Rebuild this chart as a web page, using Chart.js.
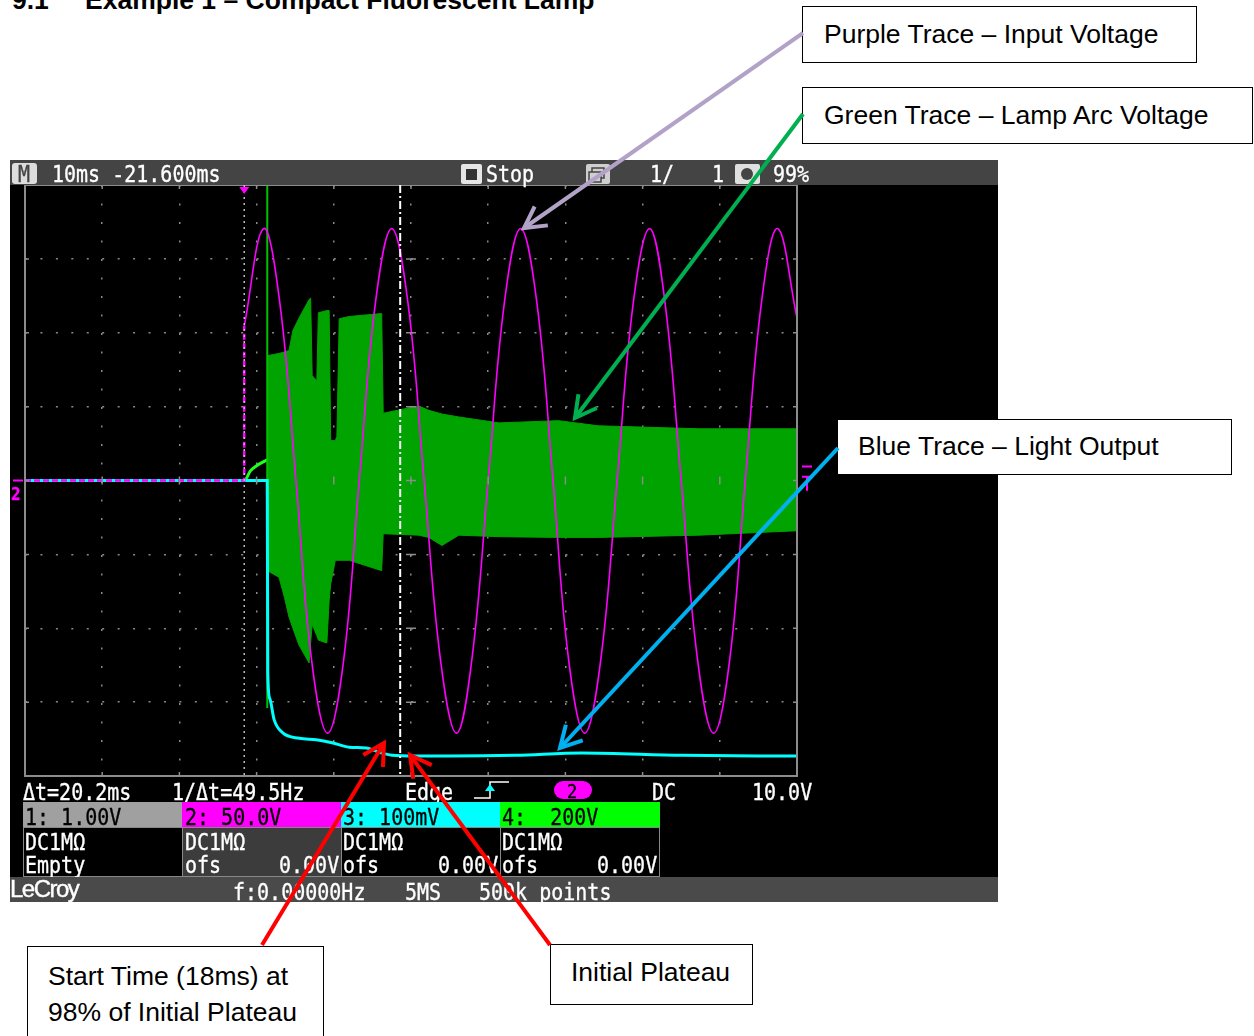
<!DOCTYPE html>
<html>
<head>
<meta charset="utf-8">
<script src="https://cdn.jsdelivr.net/npm/chart.js@4.4.1/dist/chart.umd.min.js"></script>
<style>
  body { margin: 0; background: #fff; }
  #page { position: relative; width: 1254px; height: 1036px; overflow: hidden; background: #fff; }
  #c { position: absolute; left: 10px; top: 160px; }
  .m { position: absolute; font-family: 'DejaVu Sans Mono', monospace; font-size: 20px; line-height: 20px;
       color: #fff; white-space: pre; transform: scaleY(1.15); transform-origin: top left; -webkit-text-stroke: 0.3px; }
  .bar { position: absolute; background: #444; }
  .cell { position: absolute; box-sizing: border-box; }
  .note { position: absolute; box-sizing: border-box; background: #fff; border: 1.5px solid #000;
          font-family: 'Liberation Sans', Arial, sans-serif; font-size: 26.5px; line-height: 30px; color: #000; }
  h3 { position: absolute; margin: 0; top: -13px; font-family: 'Liberation Sans', Arial, sans-serif;
       font-size: 26.5px; line-height: 26.5px; font-weight: bold; color: #000; }
  svg { position: absolute; left: 0; top: 0; }
</style>
</head>
<body>
<div id="page">
  <h3 style="left:12px">9.1</h3>
  <h3 style="left:85px">Example 1 – Compact Fluorescent Lamp</h3>

  <canvas id="c" width="988" height="742"></canvas>

  <!-- top status bar -->
  <div class="bar" style="left:10px;top:160px;width:988px;height:25px"></div>
  <div class="cell" style="left:12px;top:163px;width:25px;height:21px;background:#ddd;border-radius:3px"></div>
  <div class="m" style="left:18px;top:162px;color:#444">M</div>
  <div class="m" style="left:52px;top:162px">10ms -21.600ms</div>
  <div class="cell" style="left:461px;top:164px;width:21px;height:20px;background:#e6e6e6;border-radius:2px"></div>
  <div class="cell" style="left:466px;top:169px;width:11px;height:11px;background:#333"></div>
  <div class="m" style="left:486px;top:162px">Stop</div>
  <div class="cell" style="left:586px;top:164px;width:24px;height:20px;background:#cfcfcf;border-radius:2px"></div>
  <div class="m" style="left:650px;top:162px">1/</div>
  <div class="m" style="left:712px;top:162px">1</div>
  <div class="cell" style="left:735px;top:164px;width:25px;height:20px;background:#e0e0e0;border-radius:2px"></div>
  <div class="cell" style="left:741px;top:168px;width:12px;height:12px;background:#444;border-radius:6px"></div>
  <div class="m" style="left:773px;top:162px">99%</div>

  <!-- channel 2 ground marker -->
  <div class="m" style="left:11px;top:483px;font-size:16px;font-weight:bold;color:#f0f">2</div>

  <!-- cursor / trigger readout row -->
  <div class="m" style="left:23px;top:780px">Δt=20.2ms</div>
  <div class="m" style="left:172px;top:780px">1/Δt=49.5Hz</div>
  <div class="m" style="left:405px;top:780px">Edge</div>
  <div class="cell" style="left:554px;top:781px;width:38px;height:18px;background:#f0f;border-radius:9px"></div>
  <div class="m" style="left:567px;top:780px;font-size:17px;color:#000">2</div>
  <div class="m" style="left:652px;top:780px">DC</div>
  <div class="m" style="left:752px;top:780px">10.0V</div>

  <!-- channel table -->
  <div class="cell" style="left:23px;top:802px;width:160px;height:25px;background:#a0a0a0"></div>
  <div class="cell" style="left:182px;top:802px;width:160px;height:25px;background:#f0f"></div>
  <div class="cell" style="left:341px;top:802px;width:160px;height:25px;background:#0ff"></div>
  <div class="cell" style="left:500px;top:802px;width:160px;height:25px;background:#0f0"></div>
  <div class="cell" style="left:23px;top:827px;width:160px;height:50px;background:#000;border:1px solid #888"></div>
  <div class="cell" style="left:182px;top:827px;width:160px;height:50px;background:#3c3c3c;border:1px solid #888"></div>
  <div class="cell" style="left:341px;top:827px;width:160px;height:50px;background:#000;border:1px solid #888"></div>
  <div class="cell" style="left:500px;top:827px;width:160px;height:50px;background:#000;border:1px solid #888"></div>
  <div class="m" style="left:25px;top:805px;color:#000">1: 1.00V</div>
  <div class="m" style="left:185px;top:805px;color:#000">2: 50.0V</div>
  <div class="m" style="left:343px;top:805px;color:#000">3: 100mV</div>
  <div class="m" style="left:502px;top:805px;color:#000">4:  200V</div>
  <div class="m" style="left:25px;top:830px">DC1MΩ</div>
  <div class="m" style="left:185px;top:830px">DC1MΩ</div>
  <div class="m" style="left:343px;top:830px">DC1MΩ</div>
  <div class="m" style="left:502px;top:830px">DC1MΩ</div>
  <div class="m" style="left:25px;top:853px">Empty</div>
  <div class="m" style="left:185px;top:853px">ofs</div>
  <div class="m" style="left:279px;top:853px">0.00V</div>
  <div class="m" style="left:343px;top:853px">ofs</div>
  <div class="m" style="left:438px;top:853px">0.00V</div>
  <div class="m" style="left:502px;top:853px">ofs</div>
  <div class="m" style="left:597px;top:853px">0.00V</div>

  <!-- bottom status bar -->
  <div class="bar" style="left:10px;top:877px;width:988px;height:25px;background:#4a4a4a"></div>
  <div style="position:absolute;left:10px;top:876px;font-family:'Liberation Sans',Arial,sans-serif;font-size:24px;line-height:26px;color:#fff;letter-spacing:-1.5px;-webkit-text-stroke:0.4px #fff">LeCroy</div>
  <div class="m" style="left:233px;top:880px">f:0.00000Hz</div>
  <div class="m" style="left:405px;top:880px">5MS</div>
  <div class="m" style="left:479px;top:880px">500k points</div>

  <!-- callouts -->
  <div class="note" style="left:802px;top:6px;width:395px;height:57px;padding:12px 0 0 21px">Purple Trace – Input Voltage</div>
  <div class="note" style="left:802px;top:87px;width:451px;height:57px;padding:12px 0 0 21px">Green Trace – Lamp Arc Voltage</div>
  <div class="note" style="left:837px;top:419px;width:395px;height:56px;padding:11px 0 0 20px">Blue Trace – Light Output</div>
  <div class="note" style="left:27px;top:946px;width:297px;height:110px;padding:11px 0 0 20px;line-height:36px">Start Time (18ms) at<br>98% of Initial Plateau</div>
  <div class="note" style="left:550px;top:944px;width:203px;height:61px;padding:12px 0 0 20px">Initial Plateau</div>

  <svg id="ov" width="1254" height="1036"></svg>
</div>

<script>
// time in ms relative to the trigger (10 ms/div, trigger delay -21.6 ms), amplitude in screen divisions
const xDivs = [-28.4, -18.4, -8.4, 1.6, 11.6, 21.6, 31.6, 41.6, 51.6, 61.6, 71.6];
const cursorT = [0, 20.2];

// purple: input voltage (ch2)
const magFlatT = [-28.4, 0, 0];
const magFlatV = [0, 0, 2.09];
const sineT = [0, 2.5, 4.6, 6.7, 8.7, 10.8, 12.9, 14.9, 17.0, 19.1, 21.2, 23.3, 25.4, 27.5, 29.5, 31.6, 33.7,
               35.8, 37.9, 40.0, 42.0, 44.1, 46.2, 48.3, 50.4, 52.5, 54.5, 56.6, 58.7, 60.8, 62.9, 64.9, 67.0, 69.1, 71.6];
const sineV = [2.09, 3.41, 2.41, 0, -2.41, -3.42, -2.41, 0, 2.41, 3.41, 2.41, 0, -2.41, -3.42, -2.41, 0, 2.41,
               3.41, 2.41, 0, -2.41, -3.42, -2.41, 0, 2.41, 3.41, 2.41, 0, -2.41, -3.42, -2.41, 0, 2.41, 3.41, 2.2];

// green: lamp arc voltage (ch4) - pre-strike ramp, strike spike, then the envelope of the HF band
const bumpT = [-28.4, 0, 0.8, 1.6, 2.98];
const bumpV = [0, 0, 0.13, 0.2, 0.28];
const spikeT = [2.98, 2.98];
const spikeV = [-3.08, 4];
const greenT  = [2.98, 4.5, 5.2, 5.8, 6.3, 7.1, 8.4, 8.6, 8.8, 9.4, 9.6, 10.7, 11.0, 11.2, 11.8, 12.0, 12.3, 13.6,
                 17.8, 18.0, 22.6, 23.9, 25.6, 27.8, 33.0, 40.7, 45.9, 58.9, 71.6];
const greenHi = [1.69, 1.72, 1.74, 1.76, 2.03, 2.2, 2.45, 2.47, 1.42, 1.35, 2.27, 2.3, 2.3, 0.54, 0.54, 0.6, 2.19, 2.22,
                 2.26, 0.91, 1.01, 0.95, 0.9, 0.86, 0.78, 0.81, 0.74, 0.7, 0.7];
const greenLo = [-1.22, -1.31, -1.58, -1.85, -2.0, -2.23, -2.47, -2.2, -1.95, -2.1, -2.16, -2.2, -1.62, -1.4, -1.08, -1.08, -1.08, -1.08,
                 -1.22, -0.72, -0.74, -0.77, -0.88, -0.74, -0.76, -0.77, -0.77, -0.74, -0.68];

// blue: light output (ch3)
const blueT = [-28.4, 2.98, 3.05, 3.3, 3.88, 4.92, 7.12, 9.31, 11.38, 13.58, 15.78, 17.85, 19.15, 22.25, 26.5, 35.2, 43.7, 56.7, 71.6];
const blueV = [0, 0, -2.6, -2.95, -3.24, -3.41, -3.49, -3.51, -3.55, -3.61, -3.62, -3.69, -3.72, -3.73, -3.73, -3.72, -3.69, -3.72, -3.73];

const pts = (ts, vs) => ts.map((t, i) => ({ x: t, y: vs[i] }));

const scopePlugin = {
  id: 'scope',
  beforeDraw(chart) {
    const ctx = chart.ctx;
    ctx.save();
    ctx.fillStyle = '#000';
    ctx.fillRect(0, 0, chart.width, chart.height);
    ctx.restore();
  },
  afterDatasetsDraw(chart) {
    const { ctx, chartArea: a, scales: { x, y } } = chart;
    ctx.save();
    // graticule frame
    ctx.strokeStyle = '#8c8c8c';
    ctx.lineWidth = 2;
    ctx.strokeRect(a.left, a.top, a.right - a.left, a.bottom - a.top);
    // division ticks on the frame and on the centre cross
    ctx.lineWidth = 1.5;
    const cx = x.getPixelForValue(21.6), cy = y.getPixelForValue(0);
    ctx.beginPath();
    xDivs.forEach(v => {
      const px = x.getPixelForValue(v);
      ctx.moveTo(px, a.top); ctx.lineTo(px, a.top + 4);
      ctx.moveTo(px, a.bottom); ctx.lineTo(px, a.bottom - 4);
      ctx.moveTo(px, cy - 4); ctx.lineTo(px, cy + 4);
    });
    for (let d = -4; d <= 4; d++) {
      const py = y.getPixelForValue(d);
      ctx.moveTo(a.left, py); ctx.lineTo(a.left + 4, py);
      ctx.moveTo(a.right, py); ctx.lineTo(a.right - 4, py);
      ctx.moveTo(cx - 5, py); ctx.lineTo(cx + 5, py);
    }
    ctx.stroke();
    // trigger position (dotted) and time cursor (dash-dot)
    const tx = x.getPixelForValue(cursorT[0]);
    ctx.strokeStyle = '#bbb';
    ctx.setLineDash([2, 4]);
    ctx.beginPath(); ctx.moveTo(tx, a.top); ctx.lineTo(tx, a.bottom); ctx.stroke();
    const cxr = x.getPixelForValue(cursorT[1]);
    ctx.strokeStyle = '#fff';
    ctx.lineWidth = 2;
    ctx.setLineDash([8, 3, 2, 3]);
    ctx.beginPath(); ctx.moveTo(cxr, a.top); ctx.lineTo(cxr, a.bottom); ctx.stroke();
    ctx.setLineDash([]);
    // trigger marker
    ctx.fillStyle = '#f0f';
    ctx.beginPath();
    ctx.moveTo(tx - 5, a.top + 2); ctx.lineTo(tx + 5, a.top + 2); ctx.lineTo(tx, a.top + 9);
    ctx.closePath(); ctx.fill();
    // ground marker (left) and trigger level marker (right)
    ctx.strokeStyle = '#f0f';
    ctx.lineWidth = 2;
    ctx.beginPath();
    ctx.moveTo(3, cy); ctx.lineTo(13, cy);
    const ly = y.getPixelForValue(0.19), ty = y.getPixelForValue(0.05), by = y.getPixelForValue(-0.14);
    ctx.moveTo(a.right + 5, ly); ctx.lineTo(a.right + 15, ly);
    ctx.moveTo(a.right + 5, ty); ctx.lineTo(a.right + 15, ty);
    ctx.moveTo(a.right + 10, ty); ctx.lineTo(a.right + 10, by);
    ctx.stroke();
    ctx.restore();
  }
};

const gridX = { color: '#8a8a8a', lineWidth: 1.5, drawTicks: false };
const gridY = { color: '#8a8a8a', lineWidth: 1.5, drawTicks: false };

new Chart(document.getElementById('c'), {
  type: 'line',
  data: {
    datasets: [
      { data: pts(sineT, sineV), borderColor: '#ff00ff', borderWidth: 1.6, tension: 0.4, order: 0 },
      { data: pts(magFlatT, magFlatV), borderColor: '#ff00ff', borderWidth: 2.5, borderDash: [6, 3], tension: 0, order: 1 },
      { data: pts(blueT, blueV), borderColor: '#00ffff', borderWidth: 3, cubicInterpolationMode: 'monotone', order: 2 },
      { data: pts(spikeT, spikeV), borderColor: '#00c000', borderWidth: 2, tension: 0, order: 3 },
      { data: pts(bumpT, bumpV), borderColor: '#22ff22', borderWidth: 3, cubicInterpolationMode: 'monotone', order: 4 },
      { data: pts(greenT, greenHi), borderColor: '#00a300', backgroundColor: '#00a300', borderWidth: 1, tension: 0, fill: '+1', order: 5 },
      { data: pts(greenT, greenLo), borderColor: '#00a300', borderWidth: 1, tension: 0, fill: false, order: 6 }
    ]
  },
  options: {
    responsive: false,
    animation: false,
    events: [],
    layout: { padding: { left: 15, top: 25, right: 201, bottom: 126 } },
    elements: { point: { radius: 0 } },
    plugins: { legend: { display: false }, tooltip: { enabled: false } },
    scales: {
      x: {
        type: 'linear', min: xDivs[0], max: xDivs[xDivs.length - 1],
        afterBuildTicks: s => { s.ticks = xDivs.map(v => ({ value: v })); },
        ticks: { display: false }, grid: gridX, border: { display: false, dash: [2, 16.5] }
      },
      y: {
        min: -4, max: 4,
        ticks: { display: false, stepSize: 1 }, grid: gridY, border: { display: false, dash: [2, 13.44] }
      }
    }
  },
  plugins: [scopePlugin]
});

// callout arrows and small screen glyphs
const svg = document.getElementById('ov');
const NS = 'http://www.w3.org/2000/svg';
function el(name, attrs) {
  const e = document.createElementNS(NS, name);
  for (const k in attrs) e.setAttribute(k, attrs[k]);
  svg.appendChild(e);
  return e;
}
function arrow(x1, y1, x2, y2, color) {
  el('line', { x1, y1, x2, y2, stroke: color, 'stroke-width': 4 });
  const a = Math.atan2(y2 - y1, x2 - x1), L = 24, w = 0.5;
  const p1 = [x2 - L * Math.cos(a - w), y2 - L * Math.sin(a - w)];
  const p2 = [x2 - L * Math.cos(a + w), y2 - L * Math.sin(a + w)];
  el('polyline', { points: `${p1} ${x2},${y2} ${p2}`, fill: 'none', stroke: color, 'stroke-width': 4 });
}
// edge trigger symbol
el('polyline', { points: '474,798 490,798 490,782 509,782', fill: 'none', stroke: '#fff', 'stroke-width': 1.5 });
el('polygon', { points: '485,791 495,791 490,784', fill: '#0ff' });
// overlapping-windows icon
el('rect', { x: 592, y: 168, width: 12, height: 10, fill: 'none', stroke: '#444', 'stroke-width': 1.5 });
el('rect', { x: 589, y: 172, width: 12, height: 10, fill: '#cfcfcf', stroke: '#444', 'stroke-width': 1.5 });

arrow(803, 33, 524, 228, '#b3a2c7');
arrow(803, 114, 575, 418, '#00b050');
arrow(838, 448, 560, 748, '#00b0f0');
arrow(262, 945, 384, 743, '#ff0000');
arrow(550, 945, 410, 755, '#ff0000');
</script>
</body>
</html>
